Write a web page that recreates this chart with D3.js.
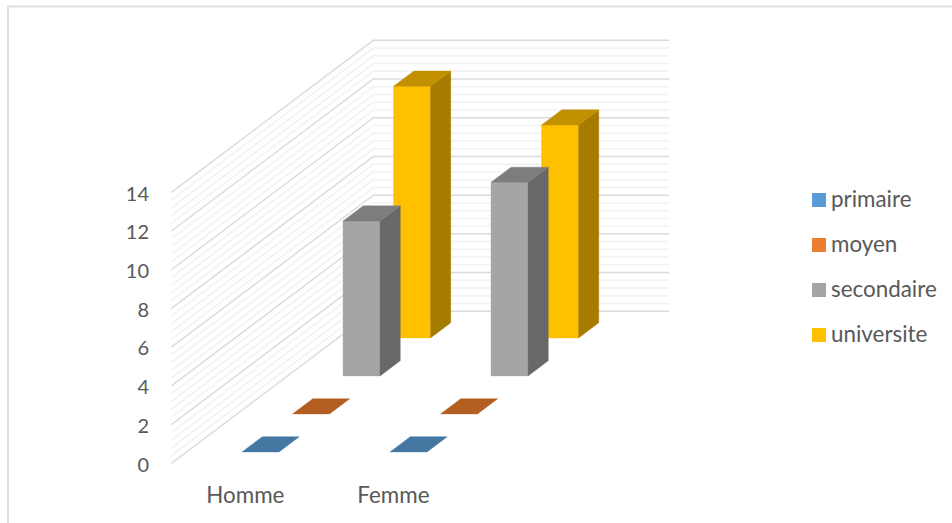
<!DOCTYPE html>
<html><head><meta charset="utf-8">
<script src="https://cdn.jsdelivr.net/npm/d3@7"></script>
<style>html,body{margin:0;padding:0;background:#fff}svg{display:block}text{font-family:Lato,sans-serif;fill:#595959}</style>
</head><body><svg id="c" width="952" height="523"></svg>
<script>
const categories = ["Homme", "Femme"];
const seriesNames = ["primaire", "moyen", "secondaire", "universite"];
const primaire = [0, 0];
const moyen = [0, 0];
const secondaire = [8, 10];
const universite = [13, 11];
const seriesValues = [primaire, moyen, secondaire, universite];
const axisTicks = [0, 2, 4, 6, 8, 10, 12, 14];
const minorStep = 0.4;
const legendColors = ["#5b9bd5", "#ed7d31", "#a5a5a5", "#ffc000"];
const faceColors = [
  {front:"#5b9bd5", side:"#335a80", top:"#4577a3"},
  {front:"#ed7d31", side:"#8f4a1c", top:"#b45f22"},
  {front:"#a5a5a5", side:"#686868", top:"#7d7d7d"},
  {front:"#ffc000", side:"#a67c00", top:"#c29100"}
];

const svg = d3.select("#c");
const y = d3.scaleLinear().domain([0, 14]).range([463.3, 192.3]);
const xCat = d3.scaleBand().domain(categories).range([171.4, 467.4]).paddingInner(0).paddingOuter(0);
const depth = d3.scaleBand().domain(seriesNames).range([0, 1]).paddingInner(0.6).paddingOuter(0.3);
const depthX = 202, depthY = 152;
const barFrac = 0.25;

const P = (xp, v, z) => [xp + z * depthX, y(v) - z * depthY];
const line = d3.line();

// frame
svg.append("path").attr("d", line([[8,523],[8,6.5],[952,6.5]]))
  .attr("fill","none").attr("stroke","#e0e0e0").attr("stroke-width",2);

// gridlines on the walls
const x0 = xCat.range()[0], x1 = xCat.range()[1];
const minor = d3.range(0, 14 + 1e-6, minorStep).filter(v => !axisTicks.some(t => Math.abs(t - v) < 1e-6));
const gridG = svg.append("g").attr("fill","none");
gridG.selectAll("path.minor").data(minor).join("path").attr("class","minor")
  .attr("d", v => line([P(x0,v,0),P(x0,v,1),P(x1,v,1)]))
  .attr("stroke","#f2f2f2").attr("stroke-width",1.5);
gridG.selectAll("path.major").data(axisTicks).join("path").attr("class","major")
  .attr("d", v => line([P(x0,v,0),P(x0,v,1),P(x1,v,1)]))
  .attr("stroke","#dcdcdc").attr("stroke-width",1.5);

// bars, back to front
const bw = xCat.bandwidth() * barFrac;
const bx = c => xCat(c) + (xCat.bandwidth() - bw) / 2;
const order = d3.range(seriesNames.length).reverse();
order.forEach(si => {
  const name = seriesNames[si], col = faceColors[si];
  const z0 = depth(name), z1 = z0 + depth.bandwidth();
  const g = svg.append("g").attr("class","series");
  categories.forEach((c, ci) => {
    const v = seriesValues[si][ci], l = bx(c), r = l + bw;
    const poly = (pts, fill) => g.append("path").attr("d", line(pts) + "Z")
      .attr("fill", fill).attr("stroke", fill).attr("stroke-width", 0.4);
    if (v > 0) {
      poly([P(l,0,z0),P(r,0,z0),P(r,v,z0),P(l,v,z0)], col.front);
      poly([P(r,0,z0),P(r,0,z1),P(r,v,z1),P(r,v,z0)], col.side);
    }
    poly([P(l,v,z0),P(r,v,z0),P(r,v,z1),P(l,v,z1)], col.top);
  });
});

// value axis labels
svg.append("g").selectAll("text").data(axisTicks).join("text")
  .attr("x", 149).attr("y", d => y(d) + 8.3).attr("text-anchor","end")
  .attr("font-size", 20).text(d => d);

// category labels
svg.append("g").selectAll("text").data(categories).join("text")
  .attr("x", c => xCat(c) + 74).attr("y", 502.6).attr("text-anchor","middle")
  .attr("font-size", 22.4).text(d => d);

// legend
const legendY = d3.scalePoint().domain(seriesNames).range([200, 335]);
const lg = svg.append("g").selectAll("g").data(seriesNames).join("g")
  .attr("transform", d => `translate(812,${legendY(d)})`);
lg.append("rect").attr("x",0).attr("y",-7).attr("width",14).attr("height",14)
  .attr("fill",(d,i)=>legendColors[i]);
lg.append("text").attr("x",19).attr("y",7.3).attr("font-size",22.4).text(d=>d);
</script></body></html>
